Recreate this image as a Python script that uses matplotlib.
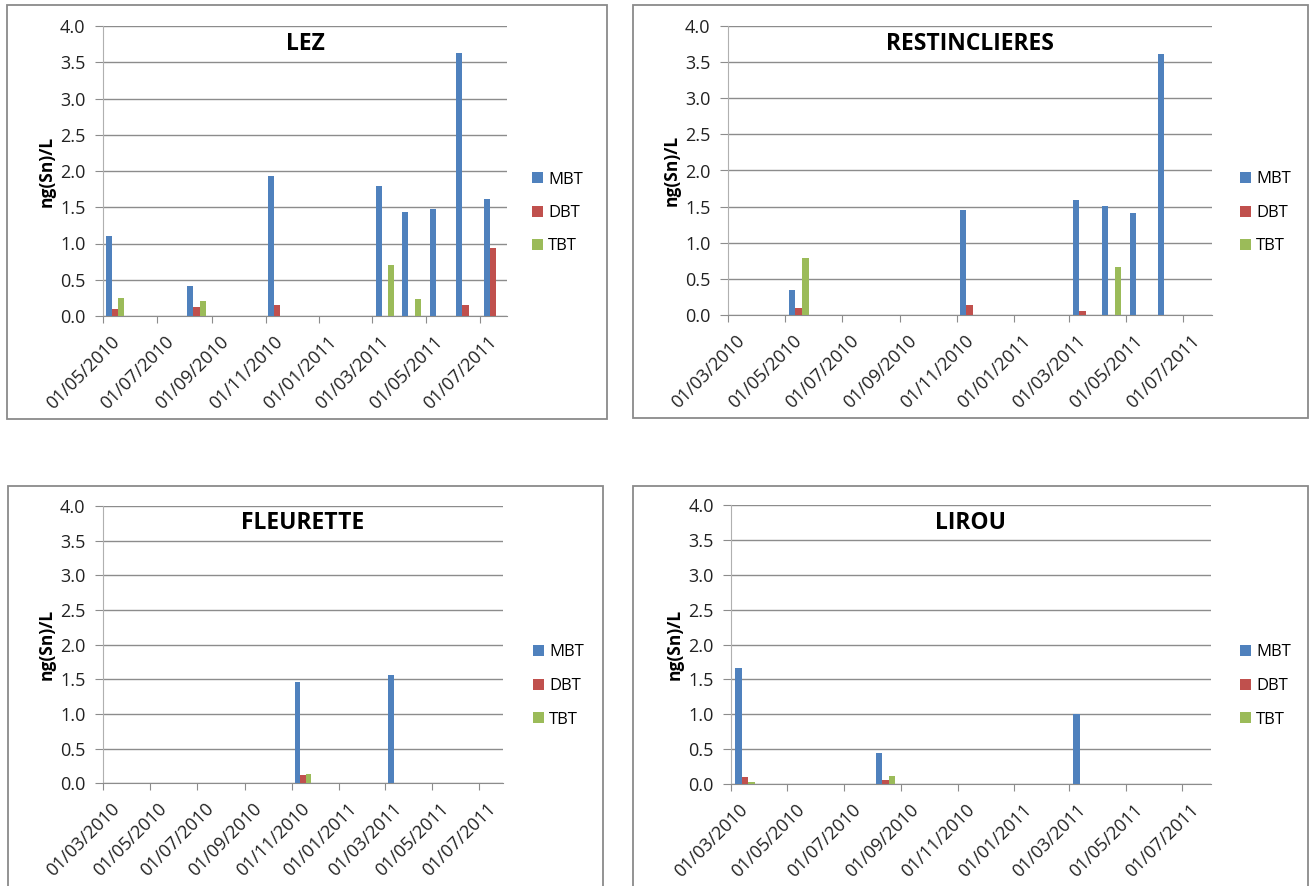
import numpy as np
import pandas as pd
import matplotlib
matplotlib.use('Agg')
import matplotlib.pyplot as plt
import matplotlib.dates as mdates
from matplotlib.patches import Rectangle
from matplotlib.ticker import FormatStrFormatter
from matplotlib.transforms import ScaledTranslation

plt.rcParams['font.family'] = ['Open Sans', 'DejaVu Sans']

##data (ng(Sn)/L)
series_names = ['MBT', 'DBT', 'TBT']
series_colors = ['#4F81BD', '#C0504D', '#9BBB59']

lez_dates = ['2010-05-15', '2010-08-15', '2010-11-14', '2011-03-16', '2011-04-15', '2011-05-16', '2011-06-15', '2011-07-16']
lez_mbt = [1.10, 0.42, 1.93, 1.80, 1.43, 1.48, 3.63, 1.61]
lez_dbt = [0.10, 0.12, 0.15, 0.0, 0.0, 0.0, 0.15, 0.94]
lez_tbt = [0.25, 0.21, 0.0, 0.71, 0.24, 0.0, 0.0, 0.0]

resti_dates = ['2010-05-16', '2010-11-15', '2011-03-16', '2011-04-16', '2011-05-16', '2011-06-15']
resti_mbt = [0.35, 1.45, 1.59, 1.51, 1.41, 3.61]
resti_dbt = [0.10, 0.14, 0.05, 0.0, 0.0, 0.0]
resti_tbt = [0.79, 0.0, 0.0, 0.67, 0.0, 0.0]

fleur_dates = ['2010-11-15', '2011-03-16']
fleur_mbt = [1.46, 1.56]
fleur_dbt = [0.12, 0.0]
fleur_tbt = [0.14, 0.0]

lirou_dates = ['2010-03-16', '2010-08-15', '2011-03-16']
lirou_mbt = [1.66, 0.44, 1.00]
lirou_dbt = [0.10, 0.06, 0.0]
lirou_tbt = [0.03, 0.11, 0.0]

W, H = 1309, 886
fig = plt.figure(figsize=(W / 100, H / 100), dpi=100)


def px_box(left, right, top, bottom):
    return [left / W, 1 - bottom / H, (right - left) / W, (bottom - top) / H]


def draw_panel(axbox, frame, title, dates, mbt, dbt, tbt, start, legend_px):
    # outer grey frame round each chart
    l, t, r, b = frame
    fig.patches.append(Rectangle((l / W, 1 - b / H), (r - l) / W, (b - t) / H,
                                 transform=fig.transFigure, fill=False,
                                 edgecolor='#8a8a8a', lw=1.3))

    ax = fig.add_axes(px_box(*axbox))
    x = mdates.date2num(pd.to_datetime(dates))
    width = 7.0
    bars = []
    for k, vals in enumerate([mbt, dbt, tbt]):
        bars.append(ax.bar(x + (k - 1) * width, vals, width=width,
                           color=series_colors[k], label=series_names[k], zorder=3))

    ax.set_xlim(mdates.date2num(pd.Timestamp(start)), mdates.date2num(pd.Timestamp('2011-08-01')))
    ax.set_ylim(0, 4)
    ax.set_yticks(np.arange(0, 4.01, 0.5))
    ax.yaxis.set_major_formatter(FormatStrFormatter('%.1f'))
    ax.xaxis.set_major_locator(mdates.MonthLocator(bymonth=[1, 3, 5, 7, 9, 11], bymonthday=1))
    ax.xaxis.set_major_formatter(mdates.DateFormatter('%d/%m/%Y'))

    ax.grid(axis='y', color='#8c8c8c', lw=1.0, zorder=0)
    for side in ['top', 'right']:
        ax.spines[side].set_visible(False)
    ax.spines['left'].set_color('#b0b0b0')
    ax.spines['bottom'].set_color('#8c8c8c')
    ax.tick_params(axis='y', length=5.5, color='#8c8c8c', labelsize=13, labelcolor='#222222', pad=7)
    ax.tick_params(axis='x', length=5, color='#8c8c8c', labelsize=13, labelcolor='#222222', pad=7)
    shift = ScaledTranslation(8 / 100, 0, fig.dpi_scale_trans)
    for lab in ax.get_xticklabels():
        lab.set_rotation(45)
        lab.set_ha('right')
        lab.set_va('top')
        lab.set_rotation_mode('anchor')
        lab.set_transform(lab.get_transform() + shift)

    ax.text(0.5, 0.937, title, transform=ax.transAxes, ha='center', va='center',
            fontsize=16.5, fontweight='bold', color='black')

    # y label sits half way between frame and tick labels
    left_px = axbox[0]
    mid_y = (axbox[2] + axbox[3]) / 2
    fig.text((left_px - 56) / W, 1 - mid_y / H, 'ng(Sn)/L', rotation=90,
             ha='center', va='center', fontsize=12.5, fontweight='bold')

    lx, ly = legend_px
    xf = (lx - axbox[0]) / (axbox[1] - axbox[0])
    yf = (axbox[3] - ly) / (axbox[3] - axbox[2])
    ax.legend(handles=bars, labels=series_names, loc='center left', bbox_to_anchor=(xf, yf),
              frameon=False, fontsize=12, handlelength=0.66, handleheight=0.66,
              handletextpad=0.3, labelspacing=1.05, borderpad=0, borderaxespad=0)
    return ax


draw_panel((102.8, 507, 26, 316), (7, 5, 607, 419), 'LEZ',
           lez_dates, lez_mbt, lez_dbt, lez_tbt, '2010-05-01', (532, 213))
draw_panel((727.8, 1211.5, 26, 315), (633, 5, 1308, 418), 'RESTINCLIERES',
           resti_dates, resti_mbt, resti_dbt, resti_tbt, '2010-03-01', (1240, 213))
draw_panel((102.8, 503, 506, 783.3), (8, 486, 603, 900), 'FLEURETTE',
           fleur_dates, fleur_mbt, fleur_dbt, fleur_tbt, '2010-03-01', (533, 686))
draw_panel((731, 1210.7, 505, 784), (633, 486, 1308, 900), 'LIROU',
           lirou_dates, lirou_mbt, lirou_dbt, lirou_tbt, '2010-03-01', (1240, 686))

fig.savefig('out.png', dpi=100)
